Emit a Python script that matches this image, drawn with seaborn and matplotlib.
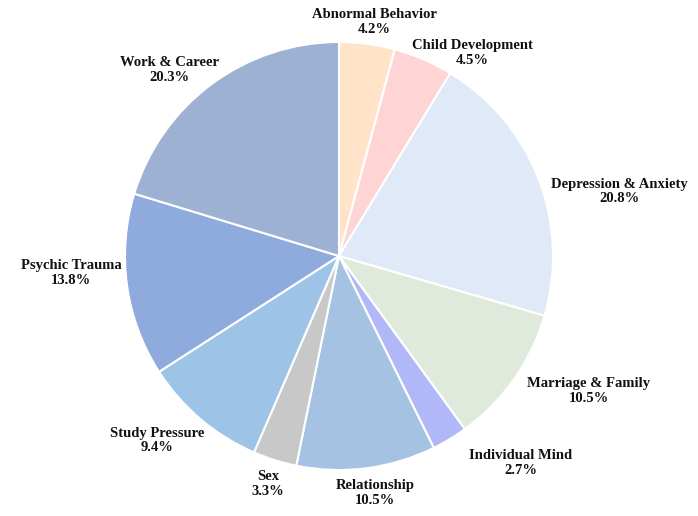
import numpy as np
import matplotlib
matplotlib.use("Agg")
import matplotlib.pyplot as plt
import seaborn as sns

categories = ["Abnormal Behavior", "Child Development", "Depression & Anxiety",
              "Marriage & Family", "Individual Mind", "Relationship", "Sex",
              "Study Pressure", "Psychic Trauma", "Work & Career"]
shares = [4.2, 4.5, 20.8, 10.5, 2.7, 10.5, 3.3, 9.4, 13.8, 20.3]
colors = ["#FFE4CA", "#FFD4D4", "#E0E9F8", "#E0EADC", "#B0B8F8",
          "#A6C2E2", "#C8C8C8", "#9DC3E6", "#8FAADC", "#9DB1D3"]

# label placement (radius factor, angle nudge in degrees) -- Excel-ish outside labels
label_dist = [1.107, 1.134, 1.343, 1.328, 1.288, 1.12, 1.116, 1.21, 1.255, 1.175]
label_nudge = [-1.1, -10.0, -8.3, 6.7, 10.2, 1.2, 0.2, -4.2, -4.3, 5.8]


def main():
    sns.set_theme(style="white")
    plt.rcParams["font.family"] = ["Liberation Serif", "DejaVu Serif"]
    palette = sns.color_palette(colors)

    fig = plt.figure(figsize=(6.98, 5.16), dpi=100)
    ax = fig.add_axes([0, 0, 1, 1])
    wedges, _ = ax.pie(shares, colors=palette, startangle=90, counterclock=False,
                       radius=1.0, wedgeprops={"edgecolor": "white", "linewidth": 1.5})

    for w, name, val, d, nudge in zip(wedges, categories, shares, label_dist, label_nudge):
        mid = np.deg2rad((w.theta1 + w.theta2) / 2 + nudge)
        ax.text(d * np.cos(mid), d * np.sin(mid), f"{name}\n{val:.1f}%",
                ha="center", va="center", multialignment="center",
                fontsize=10.5, fontweight="bold", color="#111111", linespacing=1.15)

    r_px = 214.0
    cx, cy = 339.0, 256.0
    ax.set_aspect("auto")
    ax.set_xlim(-cx / r_px, (698 - cx) / r_px)
    ax.set_ylim(-(516 - cy) / r_px, cy / r_px)
    ax.axis("off")
    fig.savefig("out.png", dpi=100)


if __name__ == "__main__":
    main()
